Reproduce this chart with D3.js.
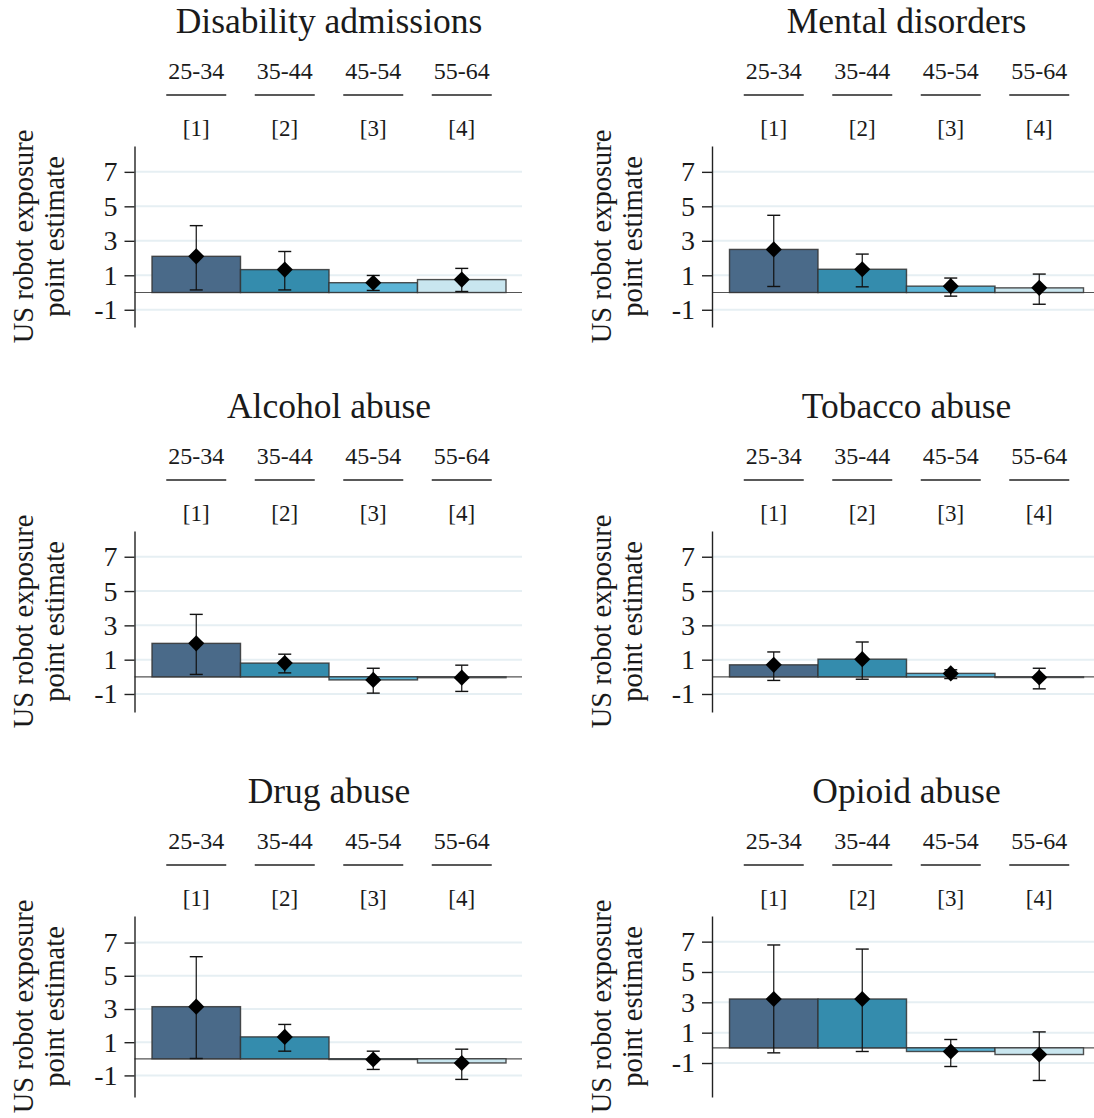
<!DOCTYPE html>
<html>
<head>
<meta charset="utf-8">
<title>US robot exposure point estimates by age group</title>
<script src="https://d3js.org/d3.v7.min.js"></script>
<style>
  body { margin: 0; background: #fff; }
  text { font-family: "Liberation Serif", "DejaVu Serif", serif; fill: #1a1a1a; }
</style>
</head>
<body>

<div id="chart"></div>

<script>
  // data
  const panelTitles = ["Disability admissions", "Mental disorders", "Alcohol abuse",
                       "Tobacco abuse", "Drug abuse", "Opioid abuse"];
  const ageGroups = ["25-34", "35-44", "45-54", "55-64"];
  const columnLabels = ["[1]", "[2]", "[3]", "[4]"];
  const yTicks = [-1, 1, 3, 5, 7];

  // point estimates, one row per panel, one value per age group
  const pointEstimates = [
    [2.10, 1.33, 0.57, 0.75],
    [2.50, 1.35, 0.37, 0.27],
    [1.95, 0.80, -0.18, -0.05],
    [0.70, 1.03, 0.20, -0.04],
    [3.14, 1.32, -0.04, -0.25],
    [3.22, 3.22, -0.24, -0.44]
  ];
  const ciLower = [
    [0.15, 0.15, 0.12, 0.06],
    [0.35, 0.33, -0.21, -0.68],
    [0.14, 0.23, -0.95, -0.85],
    [-0.21, -0.14, -0.10, -0.70],
    [0.02, 0.46, -0.64, -1.24],
    [-0.33, -0.24, -1.23, -2.15]
  ];
  const ciUpper = [
    [3.88, 2.38, 0.99, 1.40],
    [4.48, 2.23, 0.84, 1.07],
    [3.64, 1.32, 0.50, 0.68],
    [1.45, 2.03, 0.41, 0.50],
    [6.15, 2.07, 0.46, 0.58],
    [6.78, 6.51, 0.55, 1.05]
  ];
  // y axis range of each panel
  const yMin = [-2, -2, -2.05, -2.05, -2.3, -3.24];
  const yMax = [8.5, 8.5, 8.5, 8.5, 8.6, 8.69];

  const barColors = ["#4a6a89", "#348cad", "#5cb4d6", "#c9e6ef"];

  const width = 1094, height = 1118;
  const colX = [134.5, 712];
  const rowY = [0, 385, 770];
  const plotTop = 146, plotBottom = 327, plotWidth = 387.5;

  const svg = d3.select("#chart").append("svg")
    .attr("width", width)
    .attr("height", height);

  svg.append("rect").attr("width", width).attr("height", height).attr("fill", "#fff");

  panelTitles.forEach((title, i) => {
    const g = svg.append("g")
      .attr("transform", `translate(${colX[i % 2]},${rowY[Math.floor(i / 2)]})`);

    const x = d3.scaleBand()
      .domain(ageGroups)
      .range([17.5, 371.5]);

    const y = d3.scaleLinear()
      .domain([yMin[i], yMax[i]])
      .range([plotBottom, plotTop]);

    const rows = ageGroups.map((a, j) => ({
      age: a, est: pointEstimates[i][j], lo: ciLower[i][j], hi: ciUpper[i][j], color: barColors[j]
    }));

    // gridlines
    g.selectAll(".grid")
      .data(yTicks)
      .enter().append("line")
      .attr("x1", 0).attr("x2", plotWidth)
      .attr("y1", d => y(d)).attr("y2", d => y(d))
      .attr("stroke", "#e6eff3")
      .attr("stroke-width", 2);

    // zero line
    g.append("line")
      .attr("x1", 0).attr("x2", plotWidth)
      .attr("y1", y(0)).attr("y2", y(0))
      .attr("stroke", "#555")
      .attr("stroke-width", 1.2);

    // bars
    g.selectAll(".bar")
      .data(rows)
      .enter().append("rect")
      .attr("x", d => x(d.age))
      .attr("width", x.bandwidth())
      .attr("y", d => y(Math.max(0, d.est)))
      .attr("height", d => Math.abs(y(d.est) - y(0)))
      .attr("fill", d => d.color)
      .attr("stroke", "#333")
      .attr("stroke-opacity", 0.85)
      .attr("stroke-width", 1.4);

    // y axis (plain hyphen for negatives, as in the original)
    const axis = g.append("g")
      .call(d3.axisLeft(y).tickValues(yTicks).tickFormat(d => String(d))
        .tickSize(10).tickSizeOuter(0).tickPadding(7));
    axis.select(".domain").attr("stroke", "#222").attr("stroke-width", 1.4);
    axis.selectAll(".tick line").attr("stroke", "#222").attr("stroke-width", 1.4);
    axis.selectAll(".tick text")
      .style("font-family", "'Liberation Serif', serif")
      .style("font-size", "28px")
      .attr("fill", "#1a1a1a");

    // confidence intervals
    const cx = d => x(d.age) + x.bandwidth() / 2;
    g.selectAll(".ci")
      .data(rows)
      .enter().append("line")
      .attr("x1", cx).attr("x2", cx)
      .attr("y1", d => y(d.lo)).attr("y2", d => y(d.hi))
      .attr("stroke", "#111").attr("stroke-width", 1.2);
    ["lo", "hi"].forEach(k => {
      g.selectAll(".cap-" + k)
        .data(rows)
        .enter().append("line")
        .attr("x1", d => cx(d) - 6.5).attr("x2", d => cx(d) + 6.5)
        .attr("y1", d => y(d[k])).attr("y2", d => y(d[k]))
        .attr("stroke", "#111").attr("stroke-width", 1.4);
    });

    // diamonds
    g.selectAll(".pt")
      .data(rows)
      .enter().append("path")
      .attr("d", d3.symbol(d3.symbolSquare, 130))
      .attr("transform", d => `translate(${cx(d)},${y(d.est)}) rotate(45)`)
      .attr("fill", "#000");

    // title
    const mid = (x.range()[0] + x.range()[1]) / 2;
    g.append("text")
      .attr("x", mid).attr("y", 33)
      .attr("text-anchor", "middle")
      .style("font-size", "35.5px")
      .text(title);

    // age group headers
    g.selectAll(".age")
      .data(rows)
      .enter().append("text")
      .attr("x", cx).attr("y", 79)
      .attr("text-anchor", "middle")
      .style("font-size", "24px")
      .text(d => d.age);
    g.selectAll(".rule")
      .data(rows)
      .enter().append("line")
      .attr("x1", d => cx(d) - 30).attr("x2", d => cx(d) + 30)
      .attr("y1", 95).attr("y2", 95)
      .attr("stroke", "#222").attr("stroke-width", 1.5);
    g.selectAll(".col")
      .data(rows)
      .enter().append("text")
      .attr("x", cx).attr("y", 136)
      .attr("text-anchor", "middle")
      .style("font-size", "23px")
      .text((d, j) => columnLabels[j]);

    // y label
    const yl = g.append("text")
      .attr("transform", `translate(0,${(plotTop + plotBottom) / 2}) rotate(-90)`)
      .attr("text-anchor", "middle")
      .style("font-size", "28.5px");
    yl.append("tspan").attr("x", 0).attr("y", -101.5).text("US robot exposure");
    yl.append("tspan").attr("x", 0).attr("y", -70.5).text("point estimate");
  });
</script>

</body>
</html>
